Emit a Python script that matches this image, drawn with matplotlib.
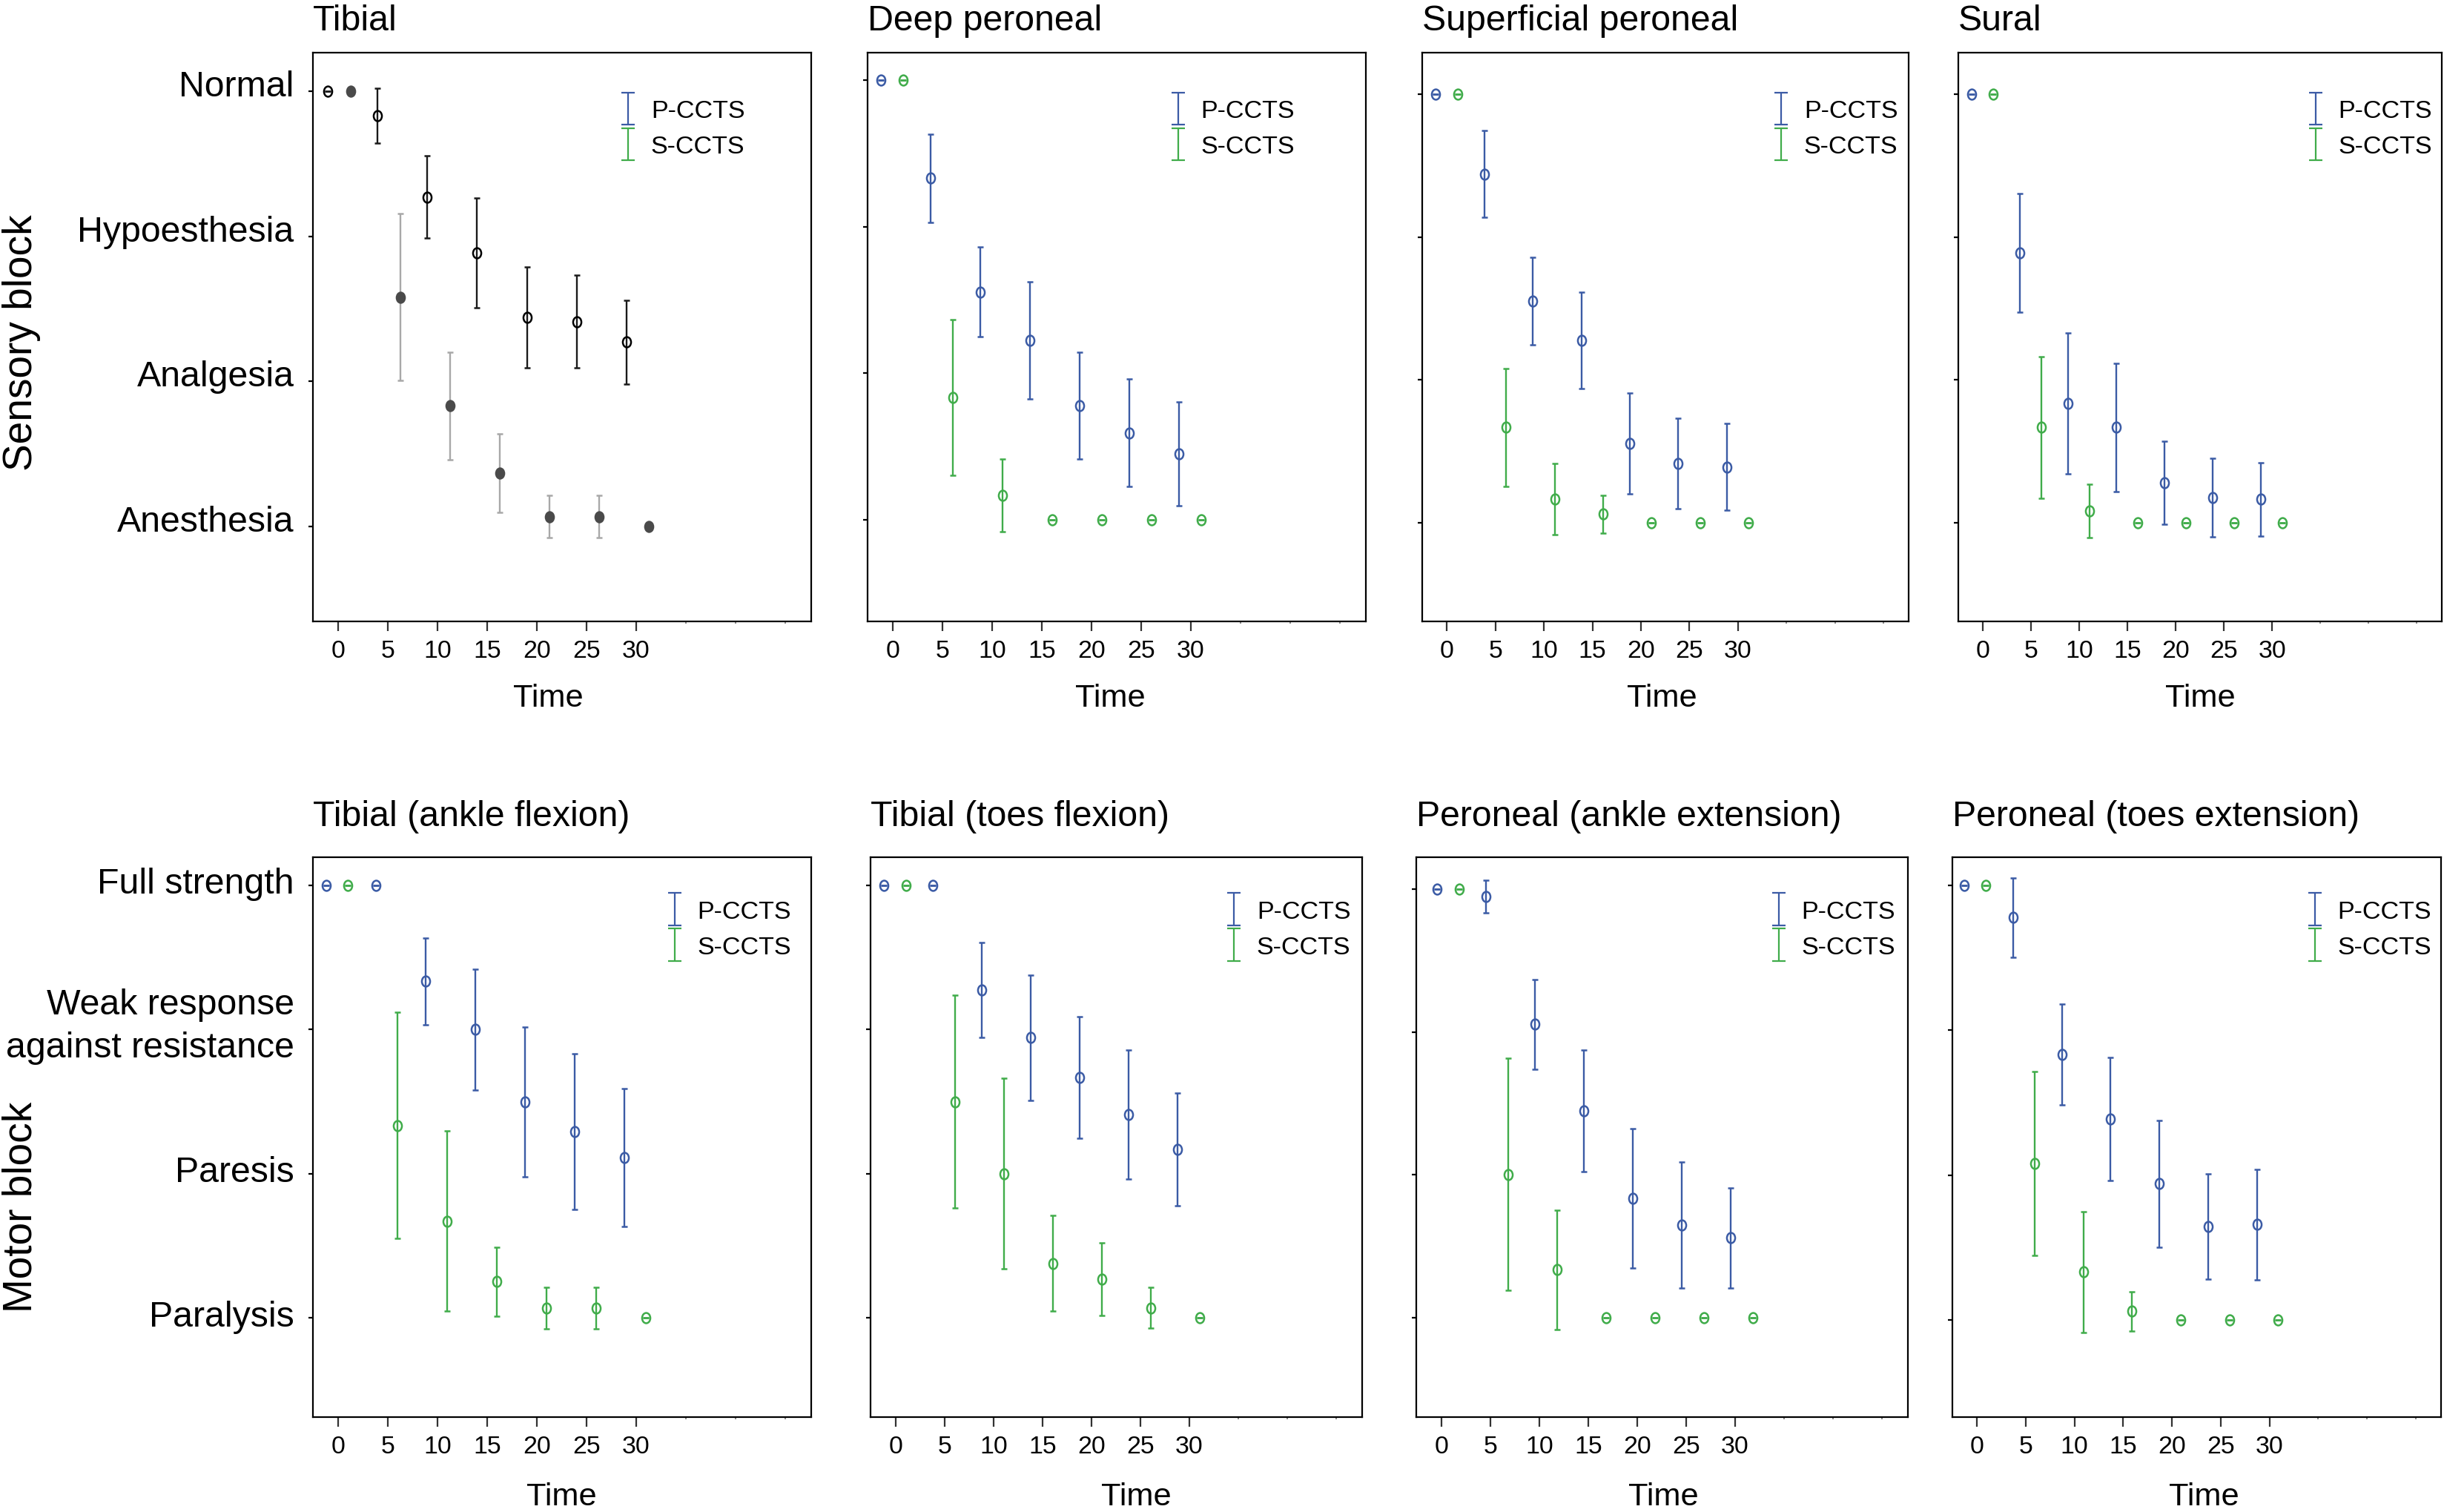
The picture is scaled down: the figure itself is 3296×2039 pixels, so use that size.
import numpy as np
import matplotlib
matplotlib.use("Agg")
import matplotlib.pyplot as plt
from matplotlib.path import Path
from matplotlib.transforms import Affine2D, ScaledTranslation
from matplotlib.legend_handler import HandlerErrorbar
from matplotlib.container import ErrorbarContainer

plt.rcParams['font.family'] = ['Liberation Sans', 'DejaVu Sans']

TIME = np.array([0, 5, 10, 15, 20, 25, 30])
SENSORY_LEVELS = ['Anesthesia', 'Analgesia', 'Hypoesthesia', 'Normal']
MOTOR_LEVELS = ['Paralysis', 'Paresis', 'Weak response\nagainst resistance', 'Full strength']

# sensory block, 3 = normal ... 0 = anesthesia (mean and half-width of the bar)
tibial_p = [3.0, 2.83, 2.27, 1.885, 1.44, 1.41, 1.27]
tibial_p_ci = [0, 0.19, 0.285, 0.38, 0.35, 0.32, 0.29]
tibial_s = [3.0, 1.58, 0.83, 0.365, 0.065, 0.065, 0.0]
tibial_s_ci = [0, 0.575, 0.37, 0.27, 0.145, 0.145, 0]

deep_p = [3.0, 2.33, 1.555, 1.223, 0.78, 0.594, 0.45]
deep_p_ci = [0, 0.30, 0.305, 0.40, 0.365, 0.365, 0.352]
deep_s = [3.0, 0.835, 0.168, 0, 0, 0, 0]
deep_s_ci = [0, 0.53, 0.248, 0, 0, 0, 0]

superf_p = [3.0, 2.44, 1.553, 1.277, 0.556, 0.415, 0.39]
superf_p_ci = [0, 0.304, 0.306, 0.336, 0.354, 0.315, 0.304]
superf_s = [3.0, 0.667, 0.164, 0.06, 0, 0, 0]
superf_s_ci = [0, 0.41, 0.249, 0.132, 0, 0, 0]

sural_p = [3.0, 1.89, 0.835, 0.667, 0.28, 0.177, 0.165]
sural_p_ci = [0, 0.416, 0.492, 0.449, 0.289, 0.277, 0.256]
sural_s = [3.0, 0.667, 0.083, 0, 0, 0, 0]
sural_s_ci = [0, 0.494, 0.185, 0, 0, 0, 0]

# motor block, 3 = full strength ... 0 = paralysis
tib_ankle_p = [3.0, 3.0, 2.333, 1.998, 1.498, 1.29, 1.11]
tib_ankle_p_ci = [0, 0, 0.30, 0.418, 0.52, 0.54, 0.478]
tib_ankle_s = [3.0, 1.333, 0.67, 0.25, 0.068, 0.068, 0]
tib_ankle_s_ci = [0, 0.784, 0.625, 0.238, 0.144, 0.144, 0]

tib_toes_p = [3.0, 3.0, 2.273, 1.942, 1.666, 1.41, 1.167]
tib_toes_p_ci = [0, 0, 0.331, 0.436, 0.42, 0.448, 0.39]
tib_toes_s = [3.0, 1.498, 1.0, 0.377, 0.268, 0.069, 0]
tib_toes_s_ci = [0, 0.738, 0.662, 0.331, 0.253, 0.143, 0]

per_ankle_p = [3.0, 2.947, 2.054, 1.447, 0.837, 0.648, 0.558]
per_ankle_p_ci = [0, 0.116, 0.314, 0.427, 0.488, 0.442, 0.349]
per_ankle_s = [3.0, 1.003, 0.335, 0, 0, 0, 0]
per_ankle_s_ci = [0, 0.812, 0.42, 0, 0, 0, 0]

per_toes_p = [3.0, 2.776, 1.831, 1.386, 0.94, 0.645, 0.66]
per_toes_p_ci = [0, 0.272, 0.349, 0.424, 0.435, 0.363, 0.38]
per_toes_s = [3.0, 1.082, 0.332, 0.062, 0, 0, 0]
per_toes_s_ci = [0, 0.634, 0.418, 0.136, 0, 0, 0]

BLUE = '#3B5BA5'
GREEN = '#40AC4A'

W, H, DPI = 3296, 2040, 200

# (title, p, p_ci, s, s_ci, row)
panels = [
    ('Tibial', tibial_p, tibial_p_ci, tibial_s, tibial_s_ci, 0),
    ('Deep peroneal', deep_p, deep_p_ci, deep_s, deep_s_ci, 0),
    ('Superficial peroneal', superf_p, superf_p_ci, superf_s, superf_s_ci, 0),
    ('Sural', sural_p, sural_p_ci, sural_s, sural_s_ci, 0),
    ('Tibial (ankle flexion)', tib_ankle_p, tib_ankle_p_ci, tib_ankle_s, tib_ankle_s_ci, 1),
    ('Tibial (toes flexion)', tib_toes_p, tib_toes_p_ci, tib_toes_s, tib_toes_s_ci, 1),
    ('Peroneal (ankle extension)', per_ankle_p, per_ankle_p_ci, per_ankle_s, per_ankle_s_ci, 1),
    ('Peroneal (toes extension)', per_toes_p, per_toes_p_ci, per_toes_s, per_toes_s_ci, 1),
]

# layout: axes box in pixels (left, right), row (top, bottom)
cols_px = [[(421.6, 1094), (1170, 1841.5), (1918, 2574), (2641, 3293)],
           [(421.6, 1094), (1174, 1836.6), (1910, 2572.5), (2632.7, 3292)]]
rows_px = [(72, 839), (1157, 1912)]
ylims = [(-0.657, 3.266), (-0.693, 3.187), (-0.69, 3.29), (-0.69, 3.29),
         (-0.689, 3.193), (-0.689, 3.193), (-0.695, 3.222), (-0.668, 3.192)]
shifts = [(-1.0, 1.25), (-1.2, 1.05), (-1.15, 1.1), (-1.2, 1.05),
          (-1.2, 1.0), (-1.2, 1.07), (-0.45, 1.85), (-1.3, 0.9)]
legend_x = [0.633, 0.624, 0.738, 0.739, 0.726, 0.74, 0.738, 0.742]
legend_top = [0.9176, 0.9234]
title_pad = [11.2, 15.5]
time_pad = [10.0, 11.5]
time_dx = [-18, -8, -5, 0, 0, 27, 2, 10]   # pixels
label_lift = [4.0, 2.5]

ellipse = Path.unit_circle().transformed(Affine2D().scale(0.8, 1.0))

fig = plt.figure(figsize=(W / DPI, H / DPI), dpi=DPI)

for i, (title, p, p_ci, s, s_ci, row) in enumerate(panels):
    col = i % 4
    l, r = cols_px[row][col]
    t, b = rows_px[row]
    ax = fig.add_axes([l / W, 1 - b / H, (r - l) / W, (b - t) / H])

    if i == 0:
        p_col, p_ecol, p_face = 'black', '#1a1a1a', 'none'
        s_col, s_ecol, s_face = '#4a4a4a', '#a8a8a8', '#4a4a4a'
    else:
        p_col, p_ecol, p_face = BLUE, BLUE, 'none'
        s_col, s_ecol, s_face = GREEN, GREEN, 'none'

    dp, ds = shifts[i]
    ax.errorbar(TIME + dp, p, yerr=p_ci, ls='none', marker=ellipse, ms=5,
                mfc=p_face, mec=p_col, mew=0.9, ecolor=p_ecol,
                elinewidth=0.85, capsize=1.5, capthick=0.85)
    ax.errorbar(TIME + ds, s, yerr=s_ci, ls='none', marker=ellipse, ms=5,
                mfc=s_face, mec=s_col, mew=0.9, ecolor=s_ecol,
                elinewidth=0.85, capsize=1.5, capthick=0.85)

    # legend symbols
    h_p = ax.errorbar([np.nan], [np.nan], yerr=[np.nan], fmt='none', ecolor=BLUE,
                      elinewidth=0.8, capsize=3.2, capthick=0.8)
    h_s = ax.errorbar([np.nan], [np.nan], yerr=[np.nan], fmt='none', ecolor=GREEN,
                      elinewidth=0.8, capsize=3.2, capthick=0.8)
    fs = 12.25
    half_handle = 0.8 * fs * DPI / 72 / 2 / (r - l)
    ax.legend([h_p, h_s], ['P-CCTS', 'S-CCTS'], loc='upper left',
              bbox_to_anchor=(legend_x[i] - half_handle, legend_top[row]),
              borderaxespad=0, borderpad=0, frameon=False, fontsize=fs,
              handlelength=0.8, handletextpad=0.5, labelspacing=0.5,
              handler_map={ErrorbarContainer: HandlerErrorbar(yerr_size=0.64)})

    ax.set_xlim(-2.55, 47.6)
    ax.set_ylim(*ylims[i])
    ax.set_xticks(TIME)
    ax.set_xticks([35, 40, 45], minor=True)
    ax.tick_params(axis='x', which='major', length=4.7, width=0.8, pad=4,
                   labelsize=12.2, color='#333333')
    ax.tick_params(axis='x', which='minor', length=1.2, width=0.7, color='#888888')
    ax.tick_params(axis='y', length=2, width=0.8, pad=7, labelsize=17.4)

    levels = SENSORY_LEVELS if row == 0 else MOTOR_LEVELS
    if col == 0:
        ax.set_yticks(range(4), levels)
        for tk in ax.yaxis.get_major_ticks():
            lab = tk.label1
            extra = 0.0
            if '\n' in lab.get_text():
                lab.set_linespacing(1.37)
                extra = 3.4
            lift = ScaledTranslation(0, (label_lift[row] + extra) / 72,
                                     fig.dpi_scale_trans)
            lab.set_transform(lab.get_transform() + lift)
    else:
        ax.set_yticks(range(4), [''] * 4)

    for sp in ax.spines.values():
        sp.set_linewidth(0.8)

    ax.set_title(title, loc='left', fontsize=17.4, pad=title_pad[row])
    ax.set_xlabel('Time', fontsize=15.6, labelpad=time_pad[row],
                  x=0.5 + time_dx[i] / (r - l))

fig.text(29 / W, 1 - 462 / H, 'Sensory block', rotation=90, ha='center',
         va='center', fontsize=19.8)
fig.text(29 / W, 1 - 1628 / H, 'Motor block', rotation=90, ha='center',
         va='center', fontsize=19.8)

fig.savefig('out.png', dpi=DPI)
